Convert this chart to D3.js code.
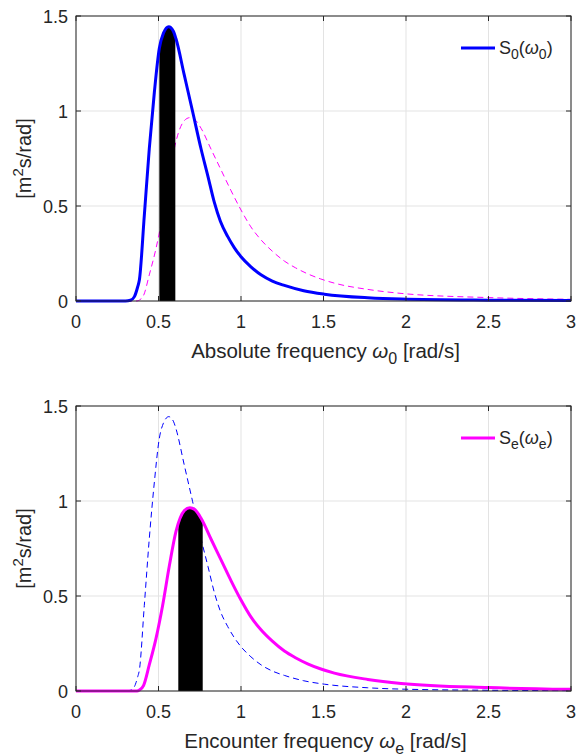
<!DOCTYPE html>
<html>
<head>
<meta charset="utf-8">
<script src="https://cdn.jsdelivr.net/npm/d3@7"></script>
<style>
  body { margin: 0; background: #fff; }
  text { font-family: "Liberation Sans", Arial, sans-serif; fill: #262626; }
</style>
</head>
<body>
<div id="chart"></div>
<script>
// sea spectrum vs absolute frequency
const omega0 = [0, 0.30, 0.33, 0.354, 0.374, 0.384, 0.414, 0.444, 0.475, 0.505, 0.53, 0.562, 0.59, 0.606, 0.656, 0.707, 0.758, 0.80, 0.838, 0.875, 0.919, 0.96, 1.0, 1.06, 1.121, 1.19, 1.263, 1.38, 1.505, 1.768, 1.97, 2.5, 3.0];
const s0     = [0, 0, 0.004, 0.023, 0.075, 0.11, 0.45, 0.80, 1.10, 1.33, 1.41, 1.444, 1.42, 1.38, 1.19, 0.996, 0.80, 0.655, 0.52, 0.42, 0.34, 0.28, 0.233, 0.18, 0.138, 0.105, 0.082, 0.054, 0.036, 0.017, 0.01, 0.004, 0.002];

// encountered spectrum vs encounter frequency
const omegaE = [0, 0.37, 0.384, 0.41, 0.444, 0.485, 0.525, 0.566, 0.606, 0.657, 0.69, 0.72, 0.758, 0.818, 0.879, 0.94, 1.0, 1.06, 1.121, 1.19, 1.263, 1.33, 1.404, 1.48, 1.566, 1.768, 1.97, 2.5, 3.0];
const sE     = [0, 0, 0.005, 0.03, 0.137, 0.277, 0.45, 0.66, 0.84, 0.95, 0.965, 0.955, 0.909, 0.80, 0.69, 0.58, 0.479, 0.39, 0.322, 0.262, 0.21, 0.175, 0.143, 0.117, 0.094, 0.061, 0.040, 0.018, 0.009];

// frequency bands shaded black
const bandAbs = [0.505, 0.602];
const bandEnc = [0.62, 0.768];

const xTicks = [0, 0.5, 1, 1.5, 2, 2.5, 3];
const yTicks = [0, 0.5, 1, 1.5];

const width = 577, height = 755;
const left = 76, right = 571;

const svg = d3.select("#chart")
  .append("svg")
    .attr("width", width)
    .attr("height", height);

const x = d3.scaleLinear().domain([0, 3]).range([left, right]);

const absData = omega0.map((w, i) => ({ w: w, v: s0[i] }));
const encData = omegaE.map((w, i) => ({ w: w, v: sE[i] }));

function drawPanel(top, bottom, solid, dashed, solidColor, dashColor, band, sub, xlabelText, id) {
  const y = d3.scaleLinear().domain([0, 1.5]).range([bottom, top]);
  const g = svg.append("g");

  // grid
  g.selectAll(".gx").data(xTicks).join("line")
    .attr("x1", d => x(d)).attr("x2", d => x(d))
    .attr("y1", top).attr("y2", bottom)
    .style("stroke", "#e3e3e3").style("stroke-width", 1);
  g.selectAll(".gy").data(yTicks).join("line")
    .attr("x1", left).attr("x2", right)
    .attr("y1", d => y(d)).attr("y2", d => y(d))
    .style("stroke", "#e3e3e3").style("stroke-width", 1);

  const line = d3.line().x(d => x(d.w)).y(d => y(d.v)).curve(d3.curveMonotoneX);
  const area = d3.area().x(d => x(d.w)).y0(y(0)).y1(d => y(d.v)).curve(d3.curveMonotoneX);

  // dashed companion curve
  g.append("path").datum(dashed)
    .attr("d", line)
    .style("fill", "none").style("stroke", dashColor)
    .style("stroke-width", 1).style("stroke-dasharray", "6,4");

  // black band under the solid curve
  svg.append("clipPath").attr("id", id)
    .append("rect")
      .attr("x", x(band[0])).attr("y", top)
      .attr("width", x(band[1]) - x(band[0])).attr("height", bottom - top);
  g.append("path").datum(solid)
    .attr("d", area)
    .attr("clip-path", `url(#${id})`)
    .style("fill", "#000");

  g.append("path").datum(solid)
    .attr("d", line)
    .style("fill", "none").style("stroke", solidColor)
    .style("stroke-width", 3).style("stroke-linejoin", "round");

  // box + ticks
  g.append("rect")
    .attr("x", left).attr("y", top)
    .attr("width", right - left).attr("height", bottom - top)
    .style("fill", "none").style("stroke", "#262626").style("stroke-width", 1);
  g.selectAll(".tx").data(xTicks).join("path")
    .attr("d", d => `M${x(d)},${bottom}v-5M${x(d)},${top}v5`)
    .style("stroke", "#262626");
  g.selectAll(".ty").data(yTicks).join("path")
    .attr("d", d => `M${left},${y(d)}h5M${right},${y(d)}h-5`)
    .style("stroke", "#262626");

  g.selectAll(".lx").data(xTicks).join("text")
    .attr("x", d => x(d)).attr("y", bottom + 27)
    .attr("text-anchor", "middle")
    .style("font-size", "18px")
    .text(d => d);
  g.selectAll(".ly").data(yTicks).join("text")
    .attr("x", left - 8).attr("y", d => y(d) + 6.5)
    .attr("text-anchor", "end")
    .style("font-size", "18px")
    .text(d => d);

  // y label
  const yl = g.append("text")
    .attr("transform", `translate(31,${(top + bottom) / 2}) rotate(-90)`)
    .attr("text-anchor", "middle")
    .style("font-size", "20px");
  yl.append("tspan").text("[m");
  yl.append("tspan").attr("dy", -8).style("font-size", "15px").text("2");
  yl.append("tspan").attr("dy", 8).text("s/rad]");

  // x label
  const xl = g.append("text")
    .attr("x", (left + right) / 2 + 2).attr("y", bottom + 56.5)
    .attr("text-anchor", "middle")
    .style("font-size", "20.5px");
  xl.append("tspan").text(xlabelText + " ");
  xl.append("tspan").style("font-style", "italic").text("ω");
  xl.append("tspan").attr("dy", 6).style("font-size", "16px").text(sub);
  xl.append("tspan").attr("dy", -6).text(" [rad/s]");

  // legend
  const ly = top + 32;
  g.append("line")
    .attr("x1", 461).attr("x2", 495).attr("y1", ly).attr("y2", ly)
    .style("stroke", solidColor).style("stroke-width", 3);
  const lt = g.append("text").attr("x", 499).attr("y", ly + 5.5).style("font-size", "18px");
  lt.append("tspan").text("S");
  lt.append("tspan").attr("dy", 5).style("font-size", "14px").text(sub);
  lt.append("tspan").attr("dy", -5).text("(");
  lt.append("tspan").style("font-style", "italic").text("ω");
  lt.append("tspan").attr("dy", 5).style("font-size", "14px").text(sub);
  lt.append("tspan").attr("dy", -5).text(")");
}

drawPanel(16, 301, absData, encData, "#0000ff", "#ff00ff", bandAbs, "0", "Absolute frequency", "clipAbs");
drawPanel(406, 691, encData, absData, "#ff00ff", "#0000ff", bandEnc, "e", "Encounter frequency", "clipEnc");
</script>
</body>
</html>
